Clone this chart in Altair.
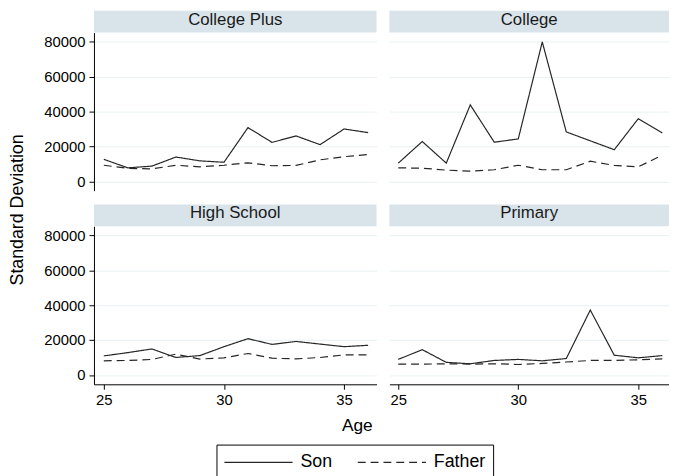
import altair as alt
import pandas as pd

FONT = "Liberation Sans"
HEADER = "#d8e4ea"
GRID = "#e8f0f2"
LINE = "#262626"

ages = list(range(25, 37))
panels = ["College Plus", "College", "High School", "Primary"]
son_college_plus = [12600, 7700, 8700, 13900, 11700, 10900, 30800, 22300, 26000, 21000, 30000, 27900]
father_college_plus = [9200, 7400, 7100, 9200, 8300, 9200, 10600, 8900, 9100, 12300, 14100, 15300]
son_college = [10400, 22800, 10400, 43800, 22400, 24300, 79900, 28300, 23200, 18100, 35900, 27700]
father_college = [7700, 7500, 6400, 5800, 6600, 9200, 6600, 6600, 11500, 9100, 8300, 14900]
son_high_school = [10900, 12800, 14900, 10000, 11100, 16200, 20800, 17500, 19200, 17700, 16200, 17000]
father_high_school = [8100, 8300, 8900, 11900, 9100, 9800, 12300, 9600, 9200, 10000, 11500, 11500]
son_primary = [8900, 14500, 7200, 6400, 8300, 8900, 8100, 9400, 37200, 11300, 9800, 11100]
father_primary = [6200, 6200, 6400, 6200, 6400, 6000, 6600, 7400, 8300, 8300, 8700, 9200]

y_ticks = [0, 20000, 40000, 60000, 80000]
x_ticks = [25, 30, 35]
series = ["Son", "Father"]

H = 160
YDOM = [-5380, 85270]

# legend line symbol: a horizontal stroke drawn from the symbol's left edge
SYM_PATH = "M-1,0H5.9"


def panel(name, son, father, left, bottom, width, xdom):
    df = pd.DataFrame({
        "age": ages + ages,
        "sd": son + father,
        "series": ["Son"] * len(ages) + ["Father"] * len(ages),
    })
    hdr = pd.DataFrame({"label": [name]})
    rect = alt.Chart(hdr).mark_rect(color=HEADER).encode(
        x=alt.value(0), x2=alt.value(width), y=alt.value(-22), y2=alt.value(0)
    )
    text = alt.Chart(hdr).mark_text(
        font=FONT, fontSize=17, color="#1a1a1a", baseline="alphabetic", align="center"
    ).encode(x=alt.value(width / 2), y=alt.value(-8), text="label:N")

    if left:
        yaxis = alt.Axis(
            values=y_ticks, format="d", grid=True, gridColor=GRID, gridWidth=1,
            domainColor="black", tickColor="black", tickSize=5, labelPadding=4,
            labelFontSize=15, labelFont=FONT, labelColor="black",
            title="Standard Deviation" if not bottom else None,
            titleX=-72, titleY=179, titleBaseline="alphabetic", titleAngle=270,
            titleAlign="center", titleFontSize=18, titleFontWeight="normal",
            titleFont=FONT, titleColor="black",
        )
    else:
        yaxis = alt.Axis(
            values=y_ticks, grid=True, gridColor=GRID, gridWidth=1,
            domain=False, ticks=False, labels=False, title=None,
        )
    if bottom:
        xaxis = alt.Axis(
            values=x_ticks, grid=False, domainColor="black", tickColor="black",
            tickSize=5, labelPadding=3, labelFontSize=15, labelFont=FONT,
            labelColor="black",
            title="Age" if left else None,
            titleX=266, titleY=47, titleBaseline="alphabetic", titleAlign="center",
            titleFontSize=17.5, titleFontWeight="normal", titleFont=FONT,
            titleColor="black",
        )
    else:
        xaxis = None

    lines = alt.Chart(df).mark_line(color=LINE, strokeWidth=1.2).encode(
        x=alt.X("age:Q", scale=alt.Scale(domain=xdom, nice=False, zero=False), axis=xaxis),
        y=alt.Y("sd:Q", scale=alt.Scale(domain=YDOM, nice=False, zero=False), axis=yaxis),
        strokeDash=alt.StrokeDash(
            "series:N",
            scale=alt.Scale(domain=series, range=[[1, 0], [8, 5]]),
            legend=alt.Legend(
                orient="none", legendX=124, legendY=417, direction="horizontal",
                title=None, strokeColor="black", fillColor="white", padding=7,
                symbolType=SYM_PATH, symbolSize=400, symbolStrokeWidth=1.2,
                symbolStrokeColor=LINE, symbolFillColor="transparent",
                labelFontSize=18, labelFont=FONT,
                labelColor="black", columnPadding=22, labelOffset=56, cornerRadius=0,
            ),
        ),
    )
    return alt.layer(rect, text, lines).properties(width=width, height=H)


LW, RW = 286, 283
LDOM = [24.59, 36.35]
RDOM = [24.63, 36.28]

p1 = panel(panels[0], son_college_plus, father_college_plus, True, False, LW, LDOM)
p2 = panel(panels[1], son_college, father_college, False, False, RW, RDOM)
p3 = panel(panels[2], son_high_school, father_high_school, True, True, LW, LDOM)
p4 = panel(panels[3], son_primary, father_primary, False, True, RW, RDOM)

chart = alt.concat(
    p1, p2, p3, p4, columns=2, spacing={"row": 36, "column": 13},
    bounds="flush", align="each",
).resolve_scale(
    x="independent", y="independent", strokeDash="shared"
).properties(
    padding={"left": 1, "top": 0, "right": 0, "bottom": 0}
).configure(font=FONT).configure_view(stroke=None)

chart.save("out.html", embed_options={"renderer": "svg", "actions": False})
